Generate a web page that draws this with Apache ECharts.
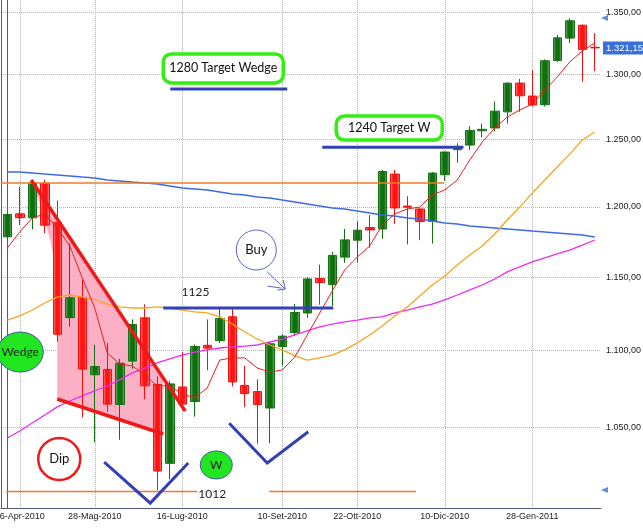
<!DOCTYPE html>
<html>
<head>
<meta charset="utf-8">
<script src="https://cdn.jsdelivr.net/npm/echarts@6/dist/echarts.min.js"></script>
<style>
html, body { margin: 0; padding: 0; background: #fff; }
#main { width: 643px; height: 528px; }
</style>
</head>
<body>
<div id="main"></div>
<script>
// weekly candles, S&P 500 style chart, log price scale
const weeks = [
  '9-Apr-2010','16-Apr-2010','23-Apr-2010','30-Apr-2010','7-Mag-2010','14-Mag-2010','21-Mag-2010','28-Mag-2010',
  '4-Giu-2010','11-Giu-2010','18-Giu-2010','25-Giu-2010','2-Lug-2010','9-Lug-2010','16-Lug-2010','23-Lug-2010',
  '30-Lug-2010','6-Ago-2010','13-Ago-2010','20-Ago-2010','27-Ago-2010','3-Set-2010','10-Set-2010','17-Set-2010',
  '24-Set-2010','1-Ott-2010','8-Ott-2010','15-Ott-2010','22-Ott-2010','29-Ott-2010','5-Nov-2010','12-Nov-2010',
  '19-Nov-2010','26-Nov-2010','3-Dic-2010','10-Dic-2010','17-Dic-2010','24-Dic-2010','31-Dic-2010','7-Gen-2011',
  '14-Gen-2011','21-Gen-2011','28-Gen-2011','4-Feb-2011','11-Feb-2011','18-Feb-2011','25-Feb-2011','4-Mar-2011'
];
const labelWeeks = ['16-Apr-2010','28-Mag-2010','16-Lug-2010','10-Set-2010','22-Ott-2010','10-Dic-2010','28-Gen-2011'];

const openP = [1178.4,1194.9,1192.0,1217.1,1188.6,1122.1,1136.0,1084.0,1087.5,1064.7,1093.0,1122.0,
  1077.6,1027.4,1076.0,1066.6,1103.5,1106.6,1122.7,1077.0,1073.0,1062.4,1102.6,1112.0,
  1125.3,1149.0,1144.8,1164.0,1176.0,1185.0,1184.0,1224.0,1200.5,1198.4,1189.5,1223.5,
  1242.2,1245.7,1256.5,1258.6,1271.0,1293.3,1283.2,1276.5,1311.0,1329.0,1339.4,1321.6];
const closeP = [1194.4,1192.1,1217.3,1186.7,1110.9,1135.7,1087.7,1089.4,1064.9,1091.6,1117.5,1076.8,
  1022.6,1078.0,1064.9,1102.7,1101.6,1121.6,1079.3,1071.7,1064.6,1104.5,1109.6,1125.6,
  1148.7,1146.2,1165.2,1176.2,1183.1,1183.3,1225.9,1199.2,1199.7,1189.4,1224.7,1240.4,
  1243.9,1256.8,1257.6,1271.5,1293.2,1283.4,1276.3,1310.9,1329.2,1343.0,1319.9,1321.15];
const lowP = [1175.0,1186.8,1183.7,1181.0,1105.9,1116.0,1056.4,1040.5,1060.0,1042.2,1088.0,1068.0,
  1010.9,1017.5,1061.0,1056.9,1087.0,1105.0,1076.4,1063.0,1039.7,1040.0,1090.0,1110.0,
  1122.0,1131.0,1130.0,1160.0,1160.0,1170.6,1177.0,1187.6,1173.0,1176.0,1173.5,1219.0,
  1232.5,1242.0,1251.6,1256.0,1262.0,1271.0,1275.0,1275.0,1310.0,1325.0,1294.3,1302.7];
const highP = [1196.0,1214.6,1217.9,1219.8,1204.5,1173.6,1148.2,1103.9,1105.0,1094.5,1121.0,1131.2,
  1083.0,1080.0,1099.1,1104.0,1120.9,1128.8,1128.0,1090.0,1081.0,1105.5,1110.9,1131.5,
  1150.0,1158.7,1167.7,1184.0,1189.5,1194.0,1227.1,1227.1,1207.7,1199.0,1225.5,1241.0,
  1247.0,1260.0,1262.0,1279.0,1294.0,1296.5,1303.5,1312.0,1331.4,1345.0,1340.0,1333.0];

// moving averages
const maRed = [1170.4,1181.8,1191.9,1194.8,1184.7,1171.9,1149.4,1128.7,1098.4,1091.1,1089.8,1083.8,
  1076.7,1076.7,1071.5,1068.9,1075.4,1093.7,1095.1,1095.1,1088.4,1085.8,1087.1,1095.7,
  1110.4,1125.3,1140.4,1155.0,1164.1,1171.9,1186.8,1194.8,1198.4,1199.8,1208.6,1212.3,
  1219.6,1234.5,1248.0,1258.6,1267.0,1272.4,1277.0,1287.9,1298.1,1309.9,1318.7,1325.1];
const maOrange = [1120.5,1123.3,1127.3,1132.1,1136.2,1137.6,1136.2,1134.2,1131.4,1129.4,1128.7,1128.7,
  1129.4,1128.7,1127.3,1126.0,1125.3,1122.6,1117.8,1112.4,1107.7,1103.7,1100.4,1096.4,
  1093.7,1095.1,1097.0,1100.4,1105.1,1110.4,1116.5,1123.3,1129.4,1136.9,1144.5,1150.8,
  1158.5,1165.5,1171.9,1180.4,1190.4,1199.8,1210.0,1219.6,1229.2,1238.9,1249.5,1255.6];
const maMagenta = [1043.3,1047.7,1052.8,1057.9,1063.1,1066.9,1070.2,1073.4,1076.7,1080.6,1085.2,1088.4,
  1091.8,1094.4,1097.0,1099.0,1100.4,1101.7,1102.4,1103.0,1103.7,1105.7,1107.7,1110.4,
  1113.1,1115.8,1117.8,1119.2,1120.5,1121.9,1122.6,1125.3,1127.3,1129.4,1131.4,1134.2,
  1137.6,1141.1,1144.5,1148.7,1153.6,1157.1,1160.6,1163.4,1166.2,1169.0,1172.5,1176.1];
const maBlue = [1225.5,1225.5,1224.8,1224.0,1223.3,1222.6,1221.8,1221.1,1219.6,1218.9,1218.1,1217.4,
  1216.7,1215.2,1213.7,1213.0,1212.3,1210.8,1209.3,1208.6,1207.1,1206.4,1204.9,1203.5,
  1202.0,1200.6,1199.1,1198.4,1197.0,1195.5,1194.1,1193.3,1191.9,1191.2,1189.7,1188.3,
  1187.6,1186.1,1185.4,1184.7,1184.0,1183.3,1182.5,1181.8,1181.1,1180.4,1179.7,1178.3];

const yTicks = [1050, 1100, 1150, 1200, 1250, 1300, 1350];
const lastPrice = 1321.15;
const rangeMarks = [1345.3, 1010.9];

// hand drawn annotations, as [week index, price]
const wedgeArea = [[1.92,1219.6],[12.48,1081.9],[12.48,1045.8],[4.0,1068.2],[4.0,1151.5],[3.44,1176.1],[2.64,1201.3]];
const wedgeTop = [[1.92,1219.6],[14.24,1060.4]];
const wedgeBottom = [[4.0,1068.2],[12.48,1045.8]];
const dipV = [[7.76,1028.2],[11.44,1003.0],[14.48,1027.6]];
const wV = [[17.76,1052.6],[20.8,1027.6],[24.08,1047.2]];
const blueLines = [
  [[12.48,1128.7],[26.08,1128.7]],
  [[13.04,1288.6],[22.4,1288.6]],
  [[25.2,1244],[36.5,1244]]
];
const orangeLines = [
  [[-0.5,1217.4],[34.96,1217.4]],
  [[-0.08,1010],[15.2,1010]],
  [[20.96,1010],[32.7,1010]]
];
const targetBoxes = [
  { text: '1280 Target Wedge', at: [17.28,1304.8], w: 120, h: 29 },
  { text: '1240 Target W', at: [30.56,1258.6], w: 106, h: 24 }
];
const greenBubbles = [
  { text: 'Wedge', at: [1.04,1099.0], rx: 23, ry: 20 },
  { text: 'W', at: [16.72,1026.4], rx: 16, ry: 14 }
];
const dipCircle = { text: 'Dip', at: [4.16,1030.1], r: 21 };
const buyCircle = { text: 'Buy', at: [19.92,1169.0], r: 20 };
const buyArrow = [[20.8,1153.6],[22.24,1141.7]];
const levelTexts = [
  { text: '1125', at: [15.06,1139.7] },
  { text: '1012', at: [16.4,1008.5] }
];

function fmt(v) {
  const s = v.toFixed(2).split('.');
  return s[0].replace(/\B(?=(\d{3})+(?!\d))/g, '.') + ',' + s[1];
}

const candleData = weeks.map((w, i) => [openP[i], closeP[i], lowP[i], highP[i]]);
const pairs = arr => arr.map((v, i) => [i, v]);

function grad(edge, mid) {
  return new echarts.graphic.LinearGradient(0, 0, 1, 0, [
    { offset: 0, color: edge }, { offset: 0.3, color: mid },
    { offset: 0.7, color: mid }, { offset: 1, color: edge }
  ]);
}

const chart = echarts.init(document.getElementById('main'));

function line(pts, api) {
  return pts.map(p => api.coord(p));
}

const option = {
  animation: false,
  backgroundColor: '#fff',
  grid: { left: 1, right: 42, top: 0, bottom: 20, containLabel: false, outerBoundsMode: 'none' },
  xAxis: [
    { type: 'category', data: weeks, show: false },
    {
      type: 'value', min: -0.5, max: 47.5, position: 'bottom',
      axisLine: { show: true, onZero: false, lineStyle: { color: '#55587a', width: 1 } },
      axisTick: { show: false, customValues: labelWeeks.map(d => weeks.indexOf(d)) },
      axisLabel: {
        customValues: labelWeeks.map(d => weeks.indexOf(d)),
        formatter: v => weeks[Math.round(v)],
        fontFamily: 'Liberation Sans', fontSize: 9, color: '#222', margin: 4
      },
      splitLine: { show: true, lineStyle: { color: '#b4b4b4', type: 'dotted', width: 1 } }
    }
  ],
  yAxis: [
    {
      type: 'log', logBase: 10, min: 1000, max: 1360, position: 'right',
      axisLine: { show: true, lineStyle: { color: '#55587a', width: 1 } },
      axisTick: { show: false, customValues: yTicks },
      axisLabel: {
        customValues: yTicks, formatter: v => fmt(v),
        fontFamily: 'Liberation Sans', fontSize: 9, color: '#222', margin: 5
      },
      splitLine: { show: true, lineStyle: { color: '#b4b4b4', type: 'dotted', width: 1 } }
    },
    {
      type: 'log', logBase: 10, min: 1000, max: 1360, position: 'left',
      axisLine: { show: true, lineStyle: { color: '#55587a', width: 1 } },
      axisTick: { show: false }, axisLabel: { show: false }, splitLine: { show: false }
    }
  ],
  series: [
    {
      type: 'custom', xAxisIndex: 1, yAxisIndex: 0, z: 1, silent: true,
      data: [[0, 1100]],
      renderItem: (params, api) => ({
        type: 'polygon',
        shape: { points: line(wedgeArea, api) },
        style: { fill: '#fbb0c6' }
      })
    },
    {
      type: 'candlestick', xAxisIndex: 0, yAxisIndex: 0, z: 2,
      barWidth: 9,
      data: candleData,
      itemStyle: {
        color: grad('#8cc48c', '#10700f'), color0: grad('#ffaaaa', '#ff1414'),
        borderColor: '#127212', borderColor0: '#f01010', borderWidth: 1
      }
    },
    { type: 'line', xAxisIndex: 1, data: pairs(maBlue), symbol: 'none', z: 3,
      lineStyle: { color: '#3d6be8', width: 1.5 } },
    { type: 'line', xAxisIndex: 1, data: pairs(maMagenta), symbol: 'none', z: 3,
      lineStyle: { color: '#f02af0', width: 1.3 } },
    { type: 'line', xAxisIndex: 1, data: pairs(maOrange), symbol: 'none', z: 3,
      lineStyle: { color: '#f5a623', width: 1.3 } },
    {
      type: 'line', xAxisIndex: 1, data: pairs(maRed), symbol: 'none', z: 3,
      lineStyle: { color: '#ee1c1c', width: 1 },
      markLine: {
        silent: true, symbol: 'none',
        data: [{ yAxis: lastPrice }],
        lineStyle: { color: 'rgba(0,0,0,0)', width: 0 },
        label: {
          show: true, position: 'end', distance: 2, formatter: () => fmt(lastPrice),
          backgroundColor: '#3a6fd8', color: '#fff', padding: [2, 3, 1, 3],
          fontFamily: 'Liberation Sans', fontSize: 9.5
        }
      }
    },
    {
      type: 'scatter', xAxisIndex: 1, yAxisIndex: 0, z: 5, clip: false,
      data: rangeMarks.map(v => [47.78, v]),
      symbol: 'triangle', symbolRotate: 90, symbolSize: [6, 7],
      itemStyle: { color: '#3a6fd8' }
    },
    {
      type: 'custom', xAxisIndex: 1, yAxisIndex: 0, z: 4, silent: true,
      data: [[0, 1100]],
      renderItem: (params, api) => {
        const kids = [];
        orangeLines.forEach(l => kids.push({ type: 'polyline', shape: { points: line(l, api) },
          style: { stroke: '#f07a2a', lineWidth: 1.5, fill: null } }));
        [wedgeTop, wedgeBottom].forEach(l => kids.push({ type: 'polyline', shape: { points: line(l, api) },
          style: { stroke: '#ee1a1a', lineWidth: 3.5, fill: null } }));
        [dipV, wV].concat(blueLines).forEach(l => kids.push({ type: 'polyline', shape: { points: line(l, api) },
          style: { stroke: '#3340b8', lineWidth: 3, fill: null } }));
        targetBoxes.forEach(b => {
          const c = api.coord(b.at);
          kids.push({ type: 'rect', shape: { x: c[0] - b.w / 2, y: c[1] - b.h / 2, width: b.w, height: b.h, r: 8 },
            style: { fill: '#fff', stroke: '#33ee11', lineWidth: 3.5 } });
          kids.push({ type: 'text', x: c[0], y: c[1],
            style: { text: b.text, fill: '#111', font: '12.5px Lato', align: 'center', verticalAlign: 'middle' } });
        });
        greenBubbles.forEach(b => {
          const c = api.coord(b.at);
          kids.push({ type: 'ellipse', shape: { cx: c[0], cy: c[1], rx: b.rx, ry: b.ry },
            style: { fill: '#22e622', stroke: '#3a5aa0', lineWidth: 1 } });
          kids.push({ type: 'text', x: c[0], y: c[1],
            style: { text: b.text, fill: '#222', font: '12px Lato', align: 'center', verticalAlign: 'middle' } });
        });
        const d = api.coord(dipCircle.at);
        kids.push({ type: 'circle', shape: { cx: d[0], cy: d[1], r: dipCircle.r },
          style: { fill: '#fff', stroke: '#ee1a1a', lineWidth: 2.5 } });
        kids.push({ type: 'text', x: d[0], y: d[1],
          style: { text: dipCircle.text, fill: '#111', font: '13px Lato', align: 'center', verticalAlign: 'middle' } });
        const b = api.coord(buyCircle.at);
        kids.push({ type: 'circle', shape: { cx: b[0], cy: b[1], r: buyCircle.r },
          style: { fill: '#fff', stroke: '#5565d5', lineWidth: 1 } });
        kids.push({ type: 'text', x: b[0], y: b[1],
          style: { text: buyCircle.text, fill: '#111', font: '13px Lato', align: 'center', verticalAlign: 'middle' } });
        const a = line(buyArrow, api);
        kids.push({ type: 'polyline', shape: { points: a }, style: { stroke: '#5565d5', lineWidth: 1, fill: null } });
        kids.push({ type: 'polyline', shape: { points: [[a[1][0] - 8, a[1][1] + 1], a[1], [a[1][0] - 2, a[1][1] - 9]] },
          style: { stroke: '#5565d5', lineWidth: 1, fill: null } });
        kids.push({ type: 'polyline', shape: { points: [[a[1][0] - 18, a[1][1] - 3], [a[1][0] - 4, a[1][1] - 1]] },
          style: { stroke: '#5565d5', lineWidth: 1, fill: null } });
        levelTexts.forEach(t => {
          const c = api.coord(t.at);
          kids.push({ type: 'text', x: c[0], y: c[1],
            style: { text: t.text, fill: '#222', font: '12px Lato', align: 'center', verticalAlign: 'middle' } });
        });
        return { type: 'group', children: kids };
      }
    }
  ]
};

chart.setOption(option);
</script>
</body>
</html>
